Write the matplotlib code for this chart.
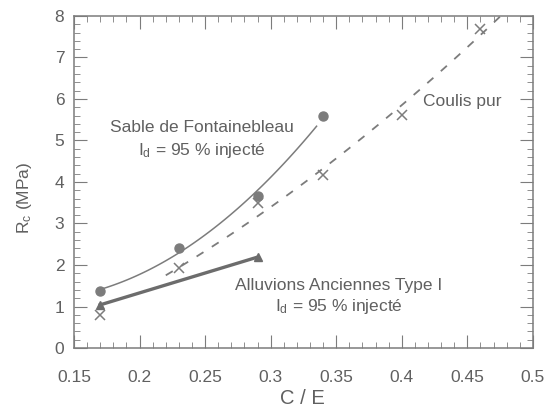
import numpy as np
import matplotlib.pyplot as plt
from matplotlib.ticker import MultipleLocator

plt.rcParams['font.family'] = ['Liberation Sans', 'DejaVu Sans']
plt.rcParams['mathtext.default'] = 'regular'

# Rc (MPa) against C/E
ce_sable = [0.17, 0.23, 0.29, 0.34]
rc_sable = [1.37, 2.42, 3.66, 5.59]

ce_coulis = [0.17, 0.23, 0.29, 0.34, 0.40, 0.46]
rc_coulis = [0.80, 1.93, 3.50, 4.17, 5.61, 7.69]

ce_alluv = [0.17, 0.29]
rc_alluv = [1.04, 2.19]

xtick_labels = ['0.15', '0.2', '0.25', '0.3', '0.35', '0.4', '0.45', '0.5']

grey = '#7c7c7c'
txt = '#606060'

fig = plt.figure(figsize=(5.5, 4.08), dpi=100)
ax = fig.add_axes([0.1345, 0.147, 0.8345, 0.814])

# fitted trend curves
p_s = np.polyfit(ce_sable, rc_sable, 2)
xs = np.linspace(0.17, 0.335, 100)
ax.plot(xs, np.polyval(p_s, xs), color=grey, lw=1.1)

p_c = np.polyfit(ce_coulis, rc_coulis, 2)
xc = np.linspace(0.22, 0.48, 100)
ax.plot(xc, np.polyval(p_c, xc), color=grey, lw=1.3, dashes=(4.5, 5.5))

ax.plot(ce_alluv, rc_alluv, color='#6c6c6c', lw=2.4, marker='^', ms=6)

ax.plot(ce_sable, rc_sable, 'o', color=grey, ms=6.5, mec=grey)
ax.plot(ce_coulis, rc_coulis, 'x', color=grey, ms=7, mew=1.1)

ax.set_xlim(0.15, 0.5)
ax.set_ylim(0, 8)
ax.xaxis.set_minor_locator(MultipleLocator(0.01))
ax.yaxis.set_major_locator(MultipleLocator(1))
ax.yaxis.set_minor_locator(MultipleLocator(0.2))
ax.set_xticks(np.linspace(0.15, 0.5, 8))
ax.set_xticklabels(xtick_labels)

ax.tick_params(which='both', direction='in', top=True, right=True,
               color=grey, labelcolor=txt, labelsize=12.5)
ax.tick_params(axis='x', which='major', length=9.5, pad=16)
ax.tick_params(axis='y', which='major', length=9.5, pad=7)
ax.tick_params(which='minor', length=4.5)
for s in ax.spines.values():
    s.set_color(grey)
    s.set_linewidth(1.1)

ax.set_xlabel('C / E', color=txt, fontsize=14.5)
ax.xaxis.set_label_coords(0.498, -0.124)
ax.set_ylabel('R$_c$ (MPa)', color=txt, fontsize=12.5)
ax.yaxis.set_label_coords(-0.087, 0.452)

ax.text(0.2476, 5.2, 'Sable de Fontainebleau', color=txt, fontsize=12.5, ha='center')
ax.text(0.2476, 4.64, 'I$_d$ = 95 % injecté', color=txt, fontsize=12.5, ha='center')
ax.text(0.416, 5.83, 'Coulis pur', color=txt, fontsize=12.5)
ax.text(0.2728, 1.4, 'Alluvions Anciennes Type I', color=txt, fontsize=12.5)
ax.text(0.3033, 0.9, 'I$_d$ = 95 % injecté', color=txt, fontsize=12.5)

fig.savefig('out.png', dpi=100)
